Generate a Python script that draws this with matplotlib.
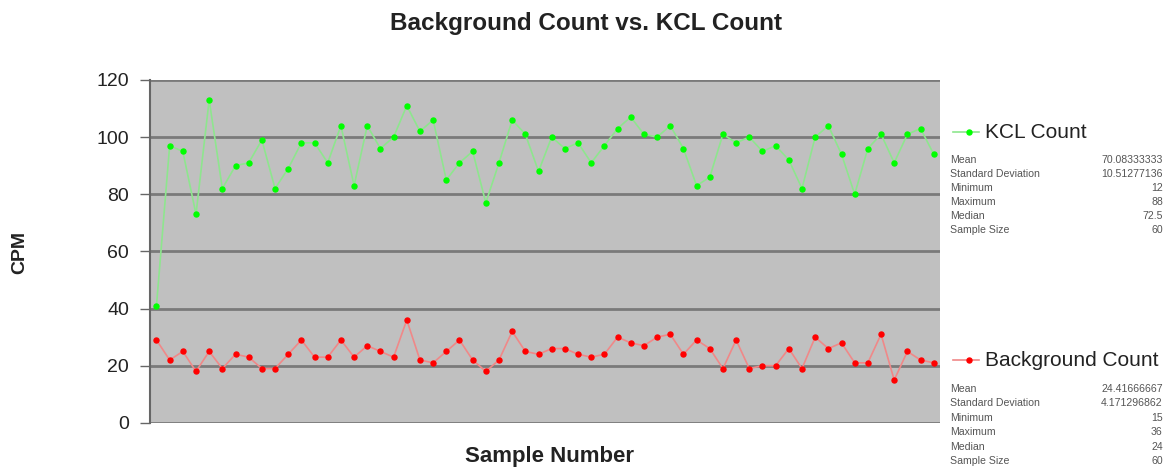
import matplotlib
matplotlib.use("Agg")
import matplotlib.pyplot as plt
from matplotlib.lines import Line2D

plt.rcParams['font.family'] = ['Liberation Sans', 'DejaVu Sans']

samples = list(range(1, 61))
kcl_count = [41, 97, 95, 73, 113, 82, 90, 91, 99, 82,
             89, 98, 98, 91, 104, 83, 104, 96, 100, 111,
             102, 106, 85, 91, 95, 77, 91, 106, 101, 88,
             100, 96, 98, 91, 97, 103, 107, 101, 100, 104,
             96, 83, 86, 101, 98, 100, 95, 97, 92, 82,
             100, 104, 94, 80, 96, 101, 91, 101, 103, 94]
background_count = [29, 22, 25, 18, 25, 19, 24, 23, 19, 19,
                    24, 29, 23, 23, 29, 23, 27, 25, 23, 36,
                    22, 21, 25, 29, 22, 18, 22, 32, 25, 24,
                    26, 26, 24, 23, 24, 30, 28, 27, 30, 31,
                    24, 29, 26, 19, 29, 19, 20, 20, 26, 19,
                    30, 26, 28, 21, 21, 31, 15, 25, 22, 21]

stat_names = ["Mean", "Standard Deviation", "Minimum", "Maximum", "Median", "Sample Size"]
kcl_stats = ["70.08333333", "10.51277136", "12", "88", "72.5", "60"]
bg_stats = ["24.41666667", "4.171296862", "15", "36", "24", "60"]

fig = plt.figure(figsize=(11.71, 4.73), dpi=100)
ax = fig.add_axes([0.128, 0.106, 0.675, 0.725])
ax.set_facecolor('#c0c0c0')

for y in range(0, 121, 20):
    ax.axhline(y, color='#7a7a7a', linewidth=2, zorder=1)

ax.plot(samples, kcl_count, color='#8ee68e', linewidth=1.2, zorder=2)
ax.plot(samples, kcl_count, linestyle='none', marker='o', markersize=3.6,
        color='#00ff00', zorder=3)
ax.plot(samples, background_count, color='#f08888', linewidth=1.2, zorder=2)
ax.plot(samples, background_count, linestyle='none', marker='o', markersize=3.6,
        color='#ff0000', zorder=3)

ax.set_xlim(0.5, 60.5)
ax.set_ylim(0, 120)
ax.set_yticks(range(0, 121, 20))
ax.set_xticks([])
ax.tick_params(axis='y', labelsize=14, length=7, width=1, color='#666666', pad=8,
               labelcolor='#222222')
for side in ['top', 'right', 'bottom']:
    ax.spines[side].set_visible(False)
ax.spines['left'].set_color('#666666')
ax.spines['left'].set_linewidth(1.5)

fig.text(0.5, 0.951, "Background Count vs. KCL Count", ha='center', va='center',
         fontsize=17.5, fontweight='bold', color='#222222')
fig.text(0.017, 0.467, "CPM", ha='center', va='center', fontsize=14,
         fontweight='bold', rotation=90, color='#222222')
fig.text(0.469, 0.034, "Sample Number", ha='center', va='center', fontsize=16,
         fontweight='bold', color='#222222')

# legend entries with stats
def legend_block(y_top, label, line_color, marker_color, values, row_ys):
    fig.add_artist(Line2D([0.814, 0.836], [y_top, y_top], color=line_color, linewidth=1.2,
                          transform=fig.transFigure))
    fig.add_artist(Line2D([0.8275], [y_top], marker='o', markersize=3.6, color=marker_color,
                          transform=fig.transFigure))
    fig.text(0.841, y_top, label, ha='left', va='center', fontsize=15, color='#222222')
    for name, val, ry in zip(stat_names, values, row_ys):
        fig.text(0.811, ry, name, ha='left', va='center', fontsize=7.6, color='#555555')
        fig.text(0.993, ry, val, ha='right', va='center', fontsize=7.6, color='#555555')

kcl_rows = [1 - y / 473 for y in [160, 174, 188, 202, 216, 230]]
bg_rows = [1 - y / 473 for y in [389, 403, 418, 432, 447, 461]]
legend_block(1 - 132 / 473, "KCL Count", '#8ee68e', '#00ff00', kcl_stats, kcl_rows)
legend_block(1 - 360 / 473, "Background Count", '#f08888', '#ff0000', bg_stats, bg_rows)

fig.savefig("out.png", dpi=100)
